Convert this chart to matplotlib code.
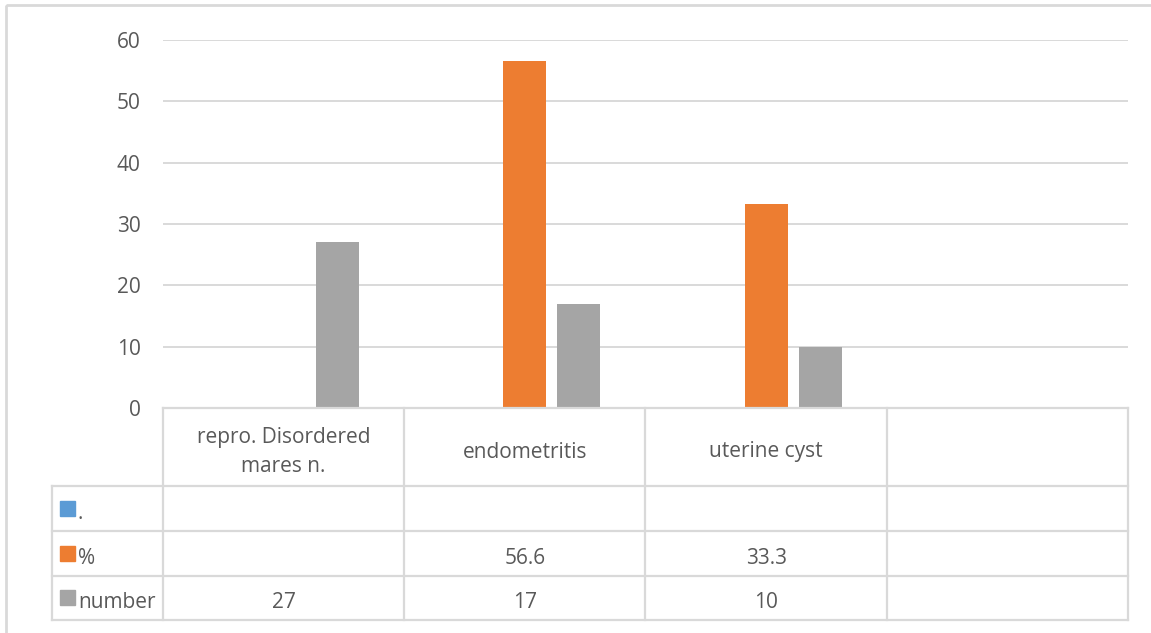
import matplotlib.pyplot as plt
from matplotlib.patches import Rectangle
import numpy as np

plt.rcParams["font.family"] = ["Open Sans", "DejaVu Sans"]

# chart data
categories = ["repro. Disordered\nmares n.", "endometritis", "uterine cyst", ""]
series_names = [".", "%", "number"]
dot_values = [None, None, None, None]
pct_values = [None, 56.6, 33.3, None]
number_values = [27, 17, 10, None]
series_colors = ["#5B9BD5", "#ED7D31", "#A5A5A5"]
y_ticks = [0, 10, 20, 30, 40, 50, 60]

TEXT = "#595959"
LINE = "#D9D9D9"
FS = 15
W, H = 1151, 633

fig = plt.figure(figsize=(W / 100, H / 100), dpi=100)
ax = fig.add_axes([163 / W, 1 - 408 / H, 965 / W, 368 / H])

x = np.arange(len(categories))
width = 0.178
step = 0.224
all_values = [dot_values, pct_values, number_values]
for i, (vals, color) in enumerate(zip(all_values, series_colors)):
    heights = np.array([np.nan if v is None else v for v in vals], dtype=float)
    ax.bar(x + (i - 1) * step, heights, width=width, color=color, zorder=3)

ax.set_xlim(-0.5, len(categories) - 0.5)
ax.set_ylim(0, 60)
ax.set_yticks(y_ticks)
ax.set_yticklabels([str(t) for t in y_ticks], fontsize=FS, color=TEXT)
ax.tick_params(axis="y", length=0, pad=16)
ax.set_xticks([])
ax.grid(axis="y", color=LINE, linewidth=1.4, zorder=0)
for s in ax.spines.values():
    s.set_visible(False)

# overlay in pixel space for the data table and chart frame
ov = fig.add_axes([0, 0, 1, 1], zorder=5)
ov.set_xlim(0, W)
ov.set_ylim(H, 0)
ov.axis("off")
ov.patch.set_alpha(0)

ov.add_patch(Rectangle((6, 5), W + 20, H + 20, fill=False, edgecolor=LINE, linewidth=2))

fig.canvas.draw()
to_px = lambda xv: ov.transData.inverted().transform(ax.transData.transform((xv, 0)))[0]
edges = [to_px(v) for v in np.arange(len(categories) + 1) - 0.5]
centers = [to_px(v) for v in x]

label_left = 52
table_top = 408
row_edges = [486, 531, 576, 620]

lw = 1.6
ov.plot([edges[0], edges[-1]], [table_top, table_top], color=LINE, lw=lw)
for yy in row_edges:
    ov.plot([label_left, edges[-1]], [yy, yy], color=LINE, lw=lw)
ov.plot([label_left, label_left], [row_edges[0], row_edges[-1]], color=LINE, lw=lw)
for ex in edges:
    ov.plot([ex, ex], [table_top, row_edges[-1]], color=LINE, lw=lw)

# category header row
for cx, cat in zip(centers, categories):
    ov.text(cx, (table_top + row_edges[0]) / 2 + 5, cat, ha="center", va="center",
            fontsize=FS, color=TEXT, linespacing=1.5)

# series rows with colour keys and values
for r, (name, vals, color) in enumerate(zip(series_names, all_values, series_colors)):
    top, bot = row_edges[r], row_edges[r + 1]
    mid = (top + bot) / 2
    ov.add_patch(Rectangle((60, mid - 8), 15, 15, color=color))
    ov.text(78, mid + 5, name, ha="left", va="center", fontsize=FS, color=TEXT)
    for cx, v in zip(centers, vals):
        if v is not None:
            ov.text(cx, mid + 5, f"{v:g}", ha="center", va="center", fontsize=FS, color=TEXT)

fig.savefig("out.png", dpi=100, facecolor="white")
